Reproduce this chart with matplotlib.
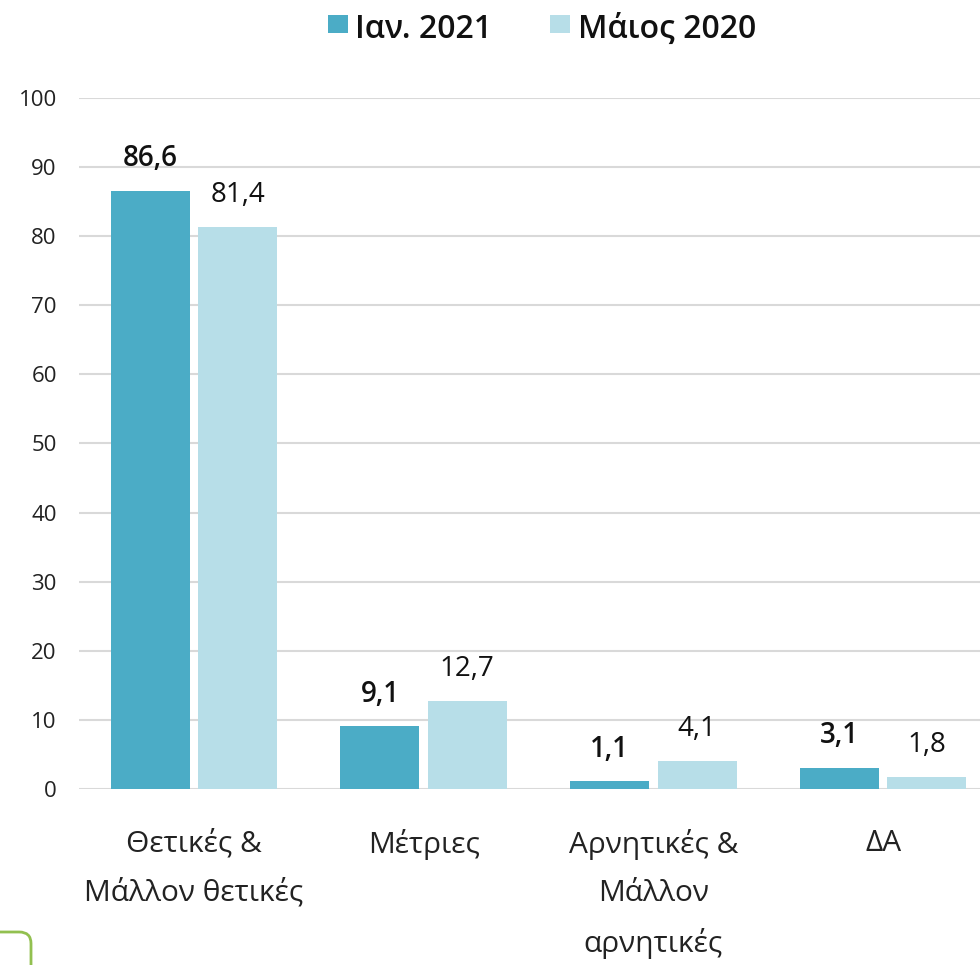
import matplotlib
matplotlib.use("Agg")
import matplotlib.pyplot as plt
from matplotlib.patches import FancyBboxPatch, Rectangle
import numpy as np

plt.rcParams['font.family'] = ['Open Sans', 'DejaVu Sans']

categories = ["Θετικές &\nΜάλλον θετικές", "Μέτριες", "Αρνητικές &\nΜάλλον\nαρνητικές", "ΔΑ"]
series_names = ["Ιαν. 2021", "Μάιος 2020"]
jan2021 = [86.6, 9.1, 1.1, 3.1]
may2020 = [81.4, 12.7, 4.1, 1.8]
yticks = [0, 10, 20, 30, 40, 50, 60, 70, 80, 90, 100]

c_dark = "#4BACC6"
c_light = "#B7DEE8"

fig = plt.figure(figsize=(9.8, 9.65), dpi=100)
ax = fig.add_axes([79/980, 1-789/965, (998-79)/980, (789-98)/965])

x = np.arange(len(categories))
w = 0.344
off = 0.19
ax.bar(x - off, jan2021, w, color=c_dark, label=series_names[0], zorder=3)
ax.bar(x + off, may2020, w, color=c_light, label=series_names[1], zorder=3)

for xi, v in zip(x - off, jan2021):
    ax.annotate(f"{v:.1f}".replace(".", ","), (xi, v), xytext=(0, 17.5), textcoords="offset points",
                ha="center", va="baseline", fontsize=20, fontweight="semibold", color="#111111")
for xi, v in zip(x + off, may2020):
    ax.annotate(f"{v:.1f}".replace(".", ","), (xi, v), xytext=(0, 18), textcoords="offset points",
                ha="center", va="baseline", fontsize=20, color="#111111")

ax.set_xlim(-0.5, 3.5)
ax.set_ylim(0, 100)
ax.set_yticks(yticks)
ax.set_yticklabels([str(t) for t in yticks], fontsize=16, color="#222222")
ax.set_xticks(x)
ax.set_xticklabels(categories, fontsize=21.5, color="#222222", linespacing=1.85)
ax.tick_params(axis="both", length=0)
ax.tick_params(axis="x", pad=29)
ax.tick_params(axis="y", pad=16)
ax.yaxis.grid(True, color="#D9D9D9", linewidth=1.5, zorder=0)
for s in ax.spines.values():
    s.set_visible(False)

# legend
fig.patches.append(Rectangle((328/980, 1-33/965), 20/980, 18/965, transform=fig.transFigure,
                             facecolor=c_dark, edgecolor="none"))
fig.text(355/980, 1-29/965, series_names[0], fontsize=23, fontweight="semibold", va="center", ha="left", color="#111111")
fig.patches.append(Rectangle((550/980, 1-33/965), 20/980, 18/965, transform=fig.transFigure,
                             facecolor=c_light, edgecolor="none"))
fig.text(578/980, 1-29/965, series_names[1], fontsize=23, fontweight="semibold", va="center", ha="left", color="#111111")

# green corner box
fig.patches.append(FancyBboxPatch((-20/980, -30/965), 51/980, 63/965,
                                  boxstyle="round,pad=0,rounding_size=0.012", transform=fig.transFigure,
                                  facecolor="none", edgecolor="#92C050", linewidth=2))

fig.savefig("out.png", dpi=100)
